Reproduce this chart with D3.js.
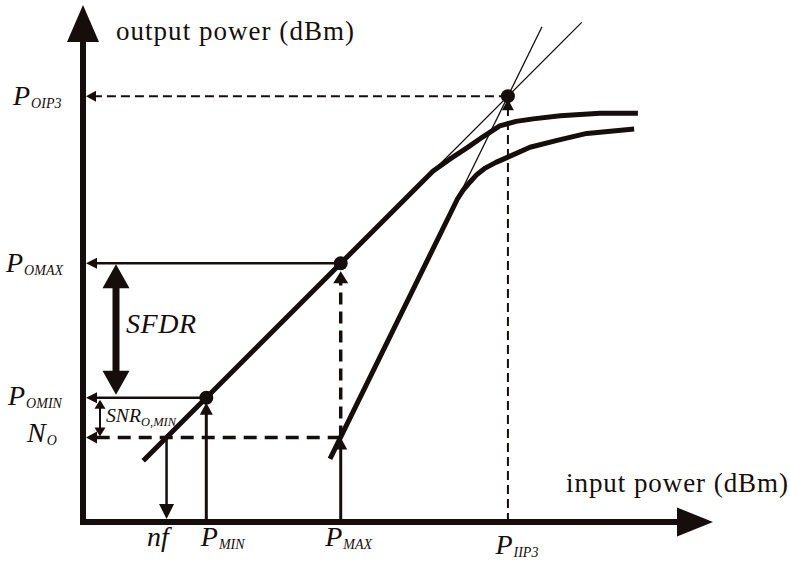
<!DOCTYPE html>
<html>
<head>
<meta charset="utf-8">
<script src="https://cdn.jsdelivr.net/npm/d3@7"></script>
<style>
html, body { margin: 0; padding: 0; background: #fff; }
svg { display: block; }
</style>
</head>
<body>
<svg id="chart" width="790" height="561"></svg>
<script>
/* global d3 */

// marks on the input axis: nf, P_MIN, P_MAX, P_IIP3 (dBm, arbitrary units)
const inputLevels = [13.4, 19.7, 41, 67.5];
const inputNames = ['nf', 'P', 'P', 'P'];
const inputSubs = ['', 'MIN', 'MAX', 'IIP3'];

// marks on the output axis: N_O, P_OMIN, P_OMAX, P_OIP3
const outputLevels = [13.4, 19.7, 41, 67.5];
const outputNames = ['N', 'P', 'P', 'P'];
const outputSubs = ['O', 'OMIN', 'OMAX', 'OIP3'];

// fundamental output vs input
const fundamental = [[9.7, 9.7], [55.6, 55.6], [58.4, 57.6], [61.0, 59.3], [63.6, 61.1],
    [66.2, 62.8], [68.8, 63.5], [71.5, 63.9], [75.8, 64.4], [82.1, 64.8], [88.1, 64.8]];
// third order intermod product vs input
const thirdOrder = [[39.3, 10.0], [59.5, 51.2], [60.4, 52.6], [61.5, 53.9], [62.6, 55.1],
    [63.9, 56.1], [65.6, 57.0], [67.4, 57.8], [71.0, 59.4], [75.3, 60.5], [80.0, 61.6], [87.5, 62.3]];
// extrapolated (asymptote) lines
const fundamentalAsym = [[55.6, 55.6], [79.2, 79.2]];
const thirdOrderAsym = [[59.5, 51.2], [72.9, 78.5]];

const ink = '#160e0c';
const serif = '"Liberation Serif", "Times New Roman", Times, serif';

const $svg = d3.select('#chart').attr('font-family', serif);

const x = d3.scaleLinear().domain([0, 100]).range([82, 713]);
const y = d3.scaleLinear().domain([0, 81]).range([522, 11]);

function head(g, tip, ux, uy, len, half) {
    const bx = tip[0] - ux * len;
    const by = tip[1] - uy * len;
    g.append('path')
        .attr('d', `M${tip[0]},${tip[1]}L${bx - uy * half},${by + ux * half}L${bx + uy * half},${by - ux * half}Z`)
        .attr('fill', ink);
}

// line from p0 to p1 with a head at p1 (and p0 if both)
function arrow(g, p0, p1, o) {
    const dx = p1[0] - p0[0];
    const dy = p1[1] - p0[1];
    const L = Math.hypot(dx, dy);
    const ux = dx / L;
    const uy = dy / L;
    const cut = o.len * 0.8;
    const s = o.both ? [p0[0] + ux * cut, p0[1] + uy * cut] : p0;
    const e = [p1[0] - ux * cut, p1[1] - uy * cut];
    g.append('line')
        .attr('x1', s[0]).attr('y1', s[1])
        .attr('x2', e[0]).attr('y2', e[1])
        .attr('stroke', ink)
        .attr('stroke-width', o.w)
        .attr('stroke-dasharray', o.dash || null);
    head(g, p1, ux, uy, o.len, o.half);
    if (o.both) head(g, p0, -ux, -uy, o.len, o.half);
}

const line = d3.line()
    .x(d => x(d[0]))
    .y(d => y(d[1]));

const $plot = $svg.append('g').attr('class', 'plot');

// thin asymptotes
[fundamentalAsym, thirdOrderAsym].forEach(function(d){
    $plot.append('path')
        .attr('d', line(d))
        .attr('fill', 'none')
        .attr('stroke', ink)
        .attr('stroke-width', 1.3);
});

// thick curves
[fundamental, thirdOrder].forEach(function(d){
    $plot.append('path')
        .attr('d', line(d))
        .attr('fill', 'none')
        .attr('stroke', ink)
        .attr('stroke-width', 5)
        .attr('stroke-linejoin', 'round');
});

const nf = inputLevels[0], pMin = inputLevels[1], pMax = inputLevels[2], pIip3 = inputLevels[3];
const nO = outputLevels[0], pOmin = outputLevels[1], pOmax = outputLevels[2], pOip3 = outputLevels[3];
const axisX = x(0) + 4;

const $guides = $svg.append('g').attr('class', 'guides');

// P_OIP3 / P_IIP3 dashed
arrow($guides, [x(pIip3), y(pOip3)], [axisX, y(pOip3)], {w: 2, len: 10, half: 5.5, dash: '9,5'});
arrow($guides, [x(pIip3), y(0)], [x(pIip3), y(pOip3) + 3], {w: 2, len: 11, half: 6, dash: '9,5'});

// P_OMAX, P_OMIN horizontals
arrow($guides, [x(pMax), y(pOmax)], [axisX, y(pOmax)], {w: 2.5, len: 11, half: 5.5});
arrow($guides, [x(pMin), y(pOmin)], [axisX, y(pOmin)], {w: 2.5, len: 11, half: 5.5});

// N_O dashed
arrow($guides, [x(pMax), y(nO)], [axisX, y(nO)], {w: 3.5, len: 11, half: 6, dash: '13,8'});

// P_MAX verticals
arrow($guides, [x(pMax), y(nO)], [x(pMax), y(pOmax) + 8], {w: 3.5, len: 12, half: 7.5, dash: '12,7'});
arrow($guides, [x(pMax), y(0)], [x(pMax), y(nO)], {w: 3, len: 12, half: 6.5});

// P_MIN vertical
arrow($guides, [x(pMin), y(0)], [x(pMin), y(pOmin) + 5], {w: 3, len: 12, half: 6.5});

// nf down arrow
arrow($guides, [x(nf), y(nO)], [x(nf), y(0) - 3], {w: 2.5, len: 15, half: 7.5});

// SNR and SFDR double arrows
arrow($guides, [100, y(pOmin) + 2], [100, y(nO) - 1], {w: 2, len: 9, half: 5.5, both: true});
arrow($guides, [116, y(pOmax) + 1], [116, y(pOmin) - 3], {w: 7, len: 24, half: 13.5, both: true});

// dots
$svg.append('g').attr('class', 'dots')
    .selectAll('circle')
    .data(inputLevels.slice(1))
    .enter()
    .append('circle')
    .attr('cx', d => x(d))
    .attr('cy', (d, i) => y(outputLevels[i + 1]))
    .attr('r', 7)
    .attr('fill', ink);

// axes lines with arrow heads
const $axes = $svg.append('g').attr('class', 'axes');
$axes.append('line')
    .attr('x1', x(0) + 1).attr('y1', y(0) + 3)
    .attr('x2', x(0) + 1).attr('y2', 38)
    .attr('stroke', ink).attr('stroke-width', 6);
$axes.append('path')
    .attr('d', `M${x(0) + 1},5L${x(0) - 15},42L${x(0) + 17},42Z`)
    .attr('fill', ink);
$axes.append('line')
    .attr('x1', x(0) - 2).attr('y1', y(0))
    .attr('x2', 682).attr('y2', y(0))
    .attr('stroke', ink).attr('stroke-width', 6);
$axes.append('path')
    .attr('d', `M${x.range()[1]},${y(0)}L677,${y(0) - 14.5}L677,${y(0) + 14.5}Z`)
    .attr('fill', ink);

// tick labels through d3 axes
const xLabelShift = [-20, -6, -16, -13];
const xLabelBase = [24, 24, 24, 32];
const $xTicks = $svg.append('g')
    .attr('transform', `translate(0,${y(0)})`)
    .call(d3.axisBottom(x).tickValues(inputLevels).tickSize(0).tickFormat(''));
$xTicks.select('.domain').remove();
$xTicks.attr('font-family', serif).attr('font-size', null);

const yLabelLeft = [27, 8, 6, 13];
const yLabelBase = [4, 7, 8, 8];
const $yTicks = $svg.append('g')
    .attr('transform', `translate(${x(0)},0)`)
    .call(d3.axisLeft(y).tickValues(outputLevels).tickSize(0).tickFormat(''));
$yTicks.select('.domain').remove();
$yTicks.attr('font-family', serif).attr('font-size', null);

function fillLabel(t, name, sub){
    t.attr('dy', null)
        .attr('text-anchor', 'start')
        .attr('fill', ink)
        .attr('font-family', serif)
        .attr('font-style', 'italic');
    t.append('tspan').attr('font-size', 28).text(name);
    if (sub) {
        t.append('tspan').attr('font-size', 14).attr('dx', 1).attr('dy', 3).text(sub);
    }
}

$xTicks.selectAll('.tick text').each(function(d, i){
    const t = d3.select(this).attr('x', xLabelShift[i]).attr('y', xLabelBase[i]);
    fillLabel(t, inputNames[i], inputSubs[i]);
});
$yTicks.selectAll('.tick text').each(function(d, i){
    const t = d3.select(this).attr('x', yLabelLeft[i] - x(0)).attr('y', yLabelBase[i]);
    fillLabel(t, outputNames[i], outputSubs[i]);
});

// titles and annotations
const $text = $svg.append('g').attr('fill', ink).attr('font-family', serif);
$text.append('text')
    .attr('x', 116).attr('y', 40)
    .attr('font-size', 27)
    .attr('textLength', 238)
    .text('output power (dBm)');
$text.append('text')
    .attr('x', 566).attr('y', 492)
    .attr('font-size', 27)
    .attr('textLength', 222)
    .text('input power (dBm)');
$text.append('text')
    .attr('x', 126).attr('y', 333)
    .attr('font-size', 28)
    .attr('font-style', 'italic')
    .attr('textLength', 70)
    .text('SFDR');

const $snr = $text.append('text')
    .attr('x', 106).attr('y', 422)
    .attr('font-style', 'italic')
    .attr('textLength', 70)
    .attr('lengthAdjust', 'spacingAndGlyphs');
$snr.append('tspan').attr('font-size', 19).text('SNR');
$snr.append('tspan').attr('font-size', 12).attr('dy', 4).text('O,MIN');
</script>
</body>
</html>
